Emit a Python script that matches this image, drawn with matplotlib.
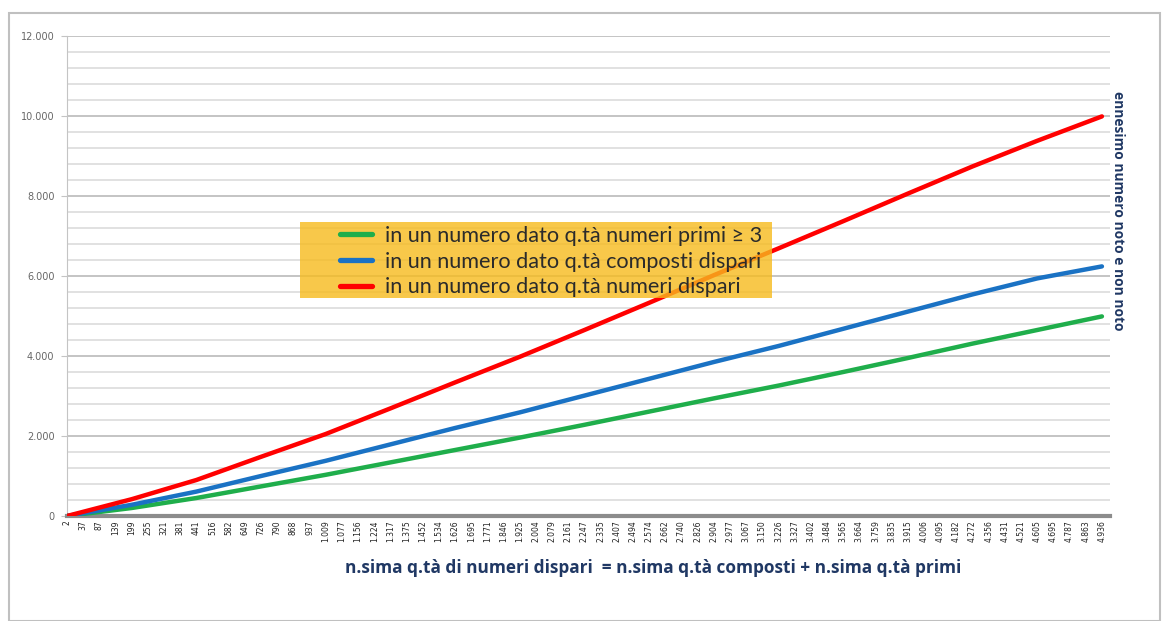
import numpy as np
import matplotlib
matplotlib.use("Agg")
import matplotlib.pyplot as plt
from matplotlib.patches import Rectangle
from matplotlib.ticker import FuncFormatter, MultipleLocator

# category labels on the x axis (n-th quantity of odd numbers)
x_labels = ["2", "37", "87", "139", "199", "255", "321", "381", "441", "516",
            "582", "649", "726", "790", "868", "937", "1.009", "1.077", "1.156",
            "1.224", "1.317", "1.375", "1.452", "1.534", "1.626", "1.695",
            "1.771", "1.846", "1.925", "2.004", "2.079", "2.161", "2.247",
            "2.335", "2.407", "2.494", "2.574", "2.662", "2.740", "2.826",
            "2.904", "2.977", "3.067", "3.150", "3.226", "3.327", "3.402",
            "3.484", "3.565", "3.664", "3.759", "3.835", "3.915", "4.006",
            "4.095", "4.182", "4.272", "4.356", "4.431", "4.521", "4.605",
            "4.695", "4.787", "4.863", "4.936"]

# values read at every 4th category
idx = [0, 4, 8, 12, 16, 20, 24, 28, 32, 36, 40, 44, 48, 52, 56, 60, 64]
primi = [0, 200, 450, 740, 1030, 1340, 1650, 1960, 2280, 2610, 2940, 3260,
         3600, 3950, 4310, 4650, 4990]
composti = [0, 280, 610, 1000, 1380, 1790, 2200, 2590, 3010, 3430, 3850,
            4250, 4680, 5110, 5540, 5940, 6240]
dispari = [0, 420, 900, 1480, 2050, 2690, 3340, 3980, 4650, 5330, 6020,
           6690, 7370, 8060, 8740, 9380, 9990]

labels = ["in un numero dato q.tà numeri primi ≥ 3",
          "in un numero dato q.tà composti dispari",
          "in un numero dato q.tà numeri dispari"]
colors = ["#1fae4b", "#1a72c4", "#ff0000"]

W, H = 1172, 621
fig = plt.figure(figsize=(W / 100, H / 100), dpi=100)
ax = fig.add_axes([67 / W, 1 - 516 / H, (1110 - 67) / W, (516 - 36) / H])

# outer chart border
fig.patches.append(Rectangle((9 / W, 0), (1160 - 9) / W, 1 - 13 / H,
                             transform=fig.transFigure, fill=False,
                             edgecolor="#c0c0c0", linewidth=1.5))

for vals, c, lab in zip([primi, composti, dispari], colors, labels):
    ax.plot(idx, vals, color=c, linewidth=3.2, label=lab, zorder=3,
            solid_capstyle="round")

ax.set_xlim(0, 64.5)
ax.set_ylim(0, 12000)

# gridlines every 400, majors every 2000
ax.yaxis.set_major_locator(MultipleLocator(2000))
ax.yaxis.set_minor_locator(MultipleLocator(400))
ax.grid(axis="y", which="minor", color="#dcdcdc", linewidth=1.2, zorder=0)
ax.grid(axis="y", which="major", color="#c4c4c4", linewidth=1.4, zorder=0)
ax.yaxis.set_major_formatter(FuncFormatter(lambda v, p: f"{v:,.0f}".replace(",", ".")))
ax.tick_params(axis="y", which="major", labelsize=7, labelcolor="#666666",
               length=4, color="#c4c4c4", pad=5)
ax.tick_params(axis="y", which="minor", length=0)

ax.set_xticks(range(len(x_labels)))
ax.set_xticklabels(x_labels, rotation=90, fontsize=5.5, color="#222222")
ax.tick_params(axis="x", length=0, pad=3)

for s in ["top", "right"]:
    ax.spines[s].set_visible(False)
ax.spines["left"].set_color("#c4c4c4")
ax.spines["bottom"].set_color("#8c8c8c")
ax.spines["bottom"].set_linewidth(3)

# legend with translucent yellow box
ax.add_patch(Rectangle(((300 - 67) / 1043, (516 - 298) / 480), 472 / 1043, 76 / 480,
                       transform=ax.transAxes, facecolor="#f7bb1d", alpha=0.8,
                       edgecolor="none", zorder=4))
leg = ax.legend(loc="upper left", bbox_to_anchor=((340 - 67) / 1043, (516 - 226) / 480),
                frameon=False, borderpad=0, borderaxespad=0, handlelength=1.47,
                handletextpad=0.6, labelspacing=0.26,
                prop={"family": "Lato", "size": 15.6})
leg.set_zorder(5)
for line in leg.get_lines():
    line.set_linewidth(3.8)
for t in leg.get_texts():
    t.set_color("#2b2b2b")

fig.text(653 / W, 1 - 568 / H,
         "n.sima q.tà di numeri dispari  = n.sima q.tà composti + n.sima q.tà primi",
         ha="center", va="center", fontsize=12.4, fontweight="bold",
         family="Open Sans", color="#203864")
fig.text(1118 / W, 1 - 211 / H, "ennesimo numero noto e non noto",
         ha="center", va="center", rotation=-90, fontsize=9.9, fontweight="bold",
         family="Open Sans", color="#203864")

fig.savefig("out.png", dpi=100)
